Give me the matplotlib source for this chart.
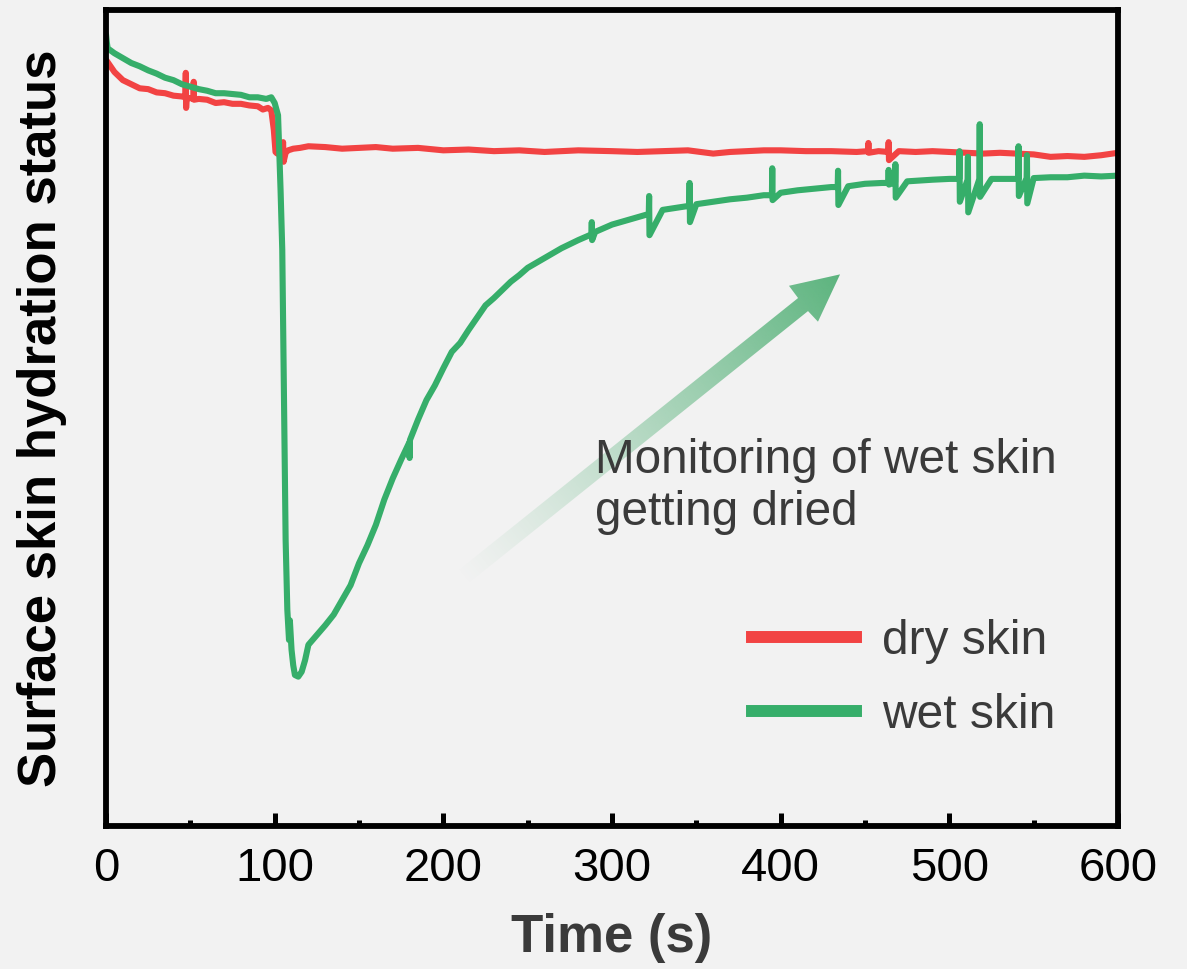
import numpy as np
import matplotlib.pyplot as plt
from matplotlib.lines import Line2D
from matplotlib.patches import Polygon
from matplotlib.ticker import MultipleLocator

plt.rcParams['font.family'] = ['Liberation Sans', 'DejaVu Sans']

# dry skin (red), arbitrary units 0-100
dry_t = [0, 2, 5, 10, 15, 20, 25, 30, 35, 40, 45, 47, 47.3, 47.5, 47.8, 50, 51.8, 52, 52.2,
         55, 60, 65, 70, 75, 80, 85, 90, 93, 96, 98, 99.5, 100.5, 101.5, 103, 104.5, 105,
         105.3, 106.5, 108, 111, 115, 120, 130, 140, 150, 160, 170, 185, 200, 215, 230,
         245, 260, 280, 300, 315, 330, 345, 360, 370, 380, 390, 400, 415, 430, 445, 451.8,
         452, 452.2, 458, 463.8, 464, 464.2, 470, 480, 490, 500, 510, 520, 530, 540, 550,
         560, 570, 580, 590, 600]
dry_v = [93.9, 93.3, 92.4, 91.4, 90.9, 90.4, 90.3, 89.9, 89.8, 89.5, 89.4, 89.3, 92.3, 88.0,
         89.2, 89.2, 89.1, 91.2, 89.0, 89.1, 89.0, 88.6, 88.7, 88.5, 88.5, 88.3, 88.2, 87.8,
         88.0, 87.7, 85.3, 82.6, 82.4, 82.8, 82.9, 83.8, 81.4, 82.5, 82.8, 83.0, 83.1, 83.3,
         83.2, 83.0, 83.1, 83.2, 83.0, 83.1, 82.8, 82.9, 82.7, 82.8, 82.6, 82.8, 82.7, 82.6,
         82.7, 82.8, 82.4, 82.6, 82.7, 82.8, 82.8, 82.7, 82.7, 82.6, 82.7, 83.7, 82.5, 82.7,
         82.6, 83.8, 81.6, 82.7, 82.6, 82.7, 82.6, 82.5, 82.4, 82.5, 82.4, 82.3, 82.0, 82.1,
         82.0, 82.2, 82.5]

# wet skin (green)
wet_t = [0, 0.5, 1, 5, 10, 15, 20, 25, 30, 35, 40, 45, 50, 55, 60, 65, 70, 75, 80, 85, 90,
         95, 98, 100, 102, 103.5, 104.5, 105.5, 106.5, 107.5, 108.5, 109, 110, 111, 112, 114,
         116, 118, 120, 125, 130, 135, 140, 145, 150, 155, 160, 165, 170, 175, 179.8, 180,
         180.2, 185, 190, 195, 200, 205, 210, 215, 220, 225, 230, 235, 240, 245, 250, 260,
         270, 280, 287.8, 288, 288.2, 290, 300, 310, 321.8, 322, 322.2, 330, 345.8, 346,
         346.2, 350, 360, 370, 380, 390, 394.8, 395, 395.2, 400, 410, 420, 430, 433.8, 434,
         434.2, 440, 450, 460, 463.8, 464, 464.2, 467.8, 468, 468.2, 475, 490, 500, 505.8,
         506, 506.2, 510.8, 511, 511.2, 517.8, 518, 518.2, 525, 530, 540.8, 541, 541.2,
         545.8, 546, 546.2, 550, 560, 570, 580, 590, 600]
wet_v = [97.0, 96.0, 95.3, 94.7, 94.1, 93.5, 93.1, 92.6, 92.2, 91.7, 91.4, 90.9, 90.6, 90.3,
         90.1, 89.8, 89.8, 89.7, 89.6, 89.3, 89.3, 89.1, 89.3, 88.6, 87.1, 77.9, 70.6, 52.2,
         35.0, 26.5, 22.8, 25.2, 21.6, 19.7, 18.5, 18.3, 18.9, 20.3, 22.2, 23.4, 24.6, 25.9,
         27.7, 29.5, 32.2, 34.4, 36.9, 40.0, 42.6, 44.9, 47.0, 45.1, 47.3, 49.8, 52.2, 54.0,
         56.1, 58.1, 59.2, 60.8, 62.3, 63.8, 64.7, 65.7, 66.7, 67.5, 68.4, 69.6, 70.8, 71.8,
         72.5, 74.0, 71.8, 72.8, 73.7, 74.3, 75.0, 77.2, 72.4, 75.5, 76.0, 78.8, 74.0, 76.2,
         76.5, 76.8, 77.0, 77.3, 77.3, 80.6, 76.7, 77.6, 77.9, 78.1, 78.3, 78.3, 80.3, 76.1,
         78.4, 78.7, 78.8, 78.8, 80.4, 78.6, 78.9, 81.1, 77.0, 79.0, 79.2, 79.3, 79.3, 82.7,
         76.5, 79.2, 82.0, 75.2, 79.3, 86.0, 77.1, 79.3, 79.3, 79.3, 83.3, 77.2, 79.4, 82.2,
         76.3, 79.4, 79.5, 79.5, 79.7, 79.6, 79.7]

xticks = [0, 100, 200, 300, 400, 500, 600]

bg = '#f2f2f2'
red = '#f24343'
green = '#36ae6a'
dark = '#3a3a3a'

fig = plt.figure(figsize=(11.87, 9.69), dpi=100, facecolor=bg)
ax = fig.add_axes([0.0893, 0.1476, 0.8526, 0.8421])
ax.set_facecolor(bg)

ax.plot(dry_t, dry_v, color=red, lw=4.4, solid_joinstyle='round', solid_capstyle='round')
ax.plot(wet_t, wet_v, color=green, lw=4.4, solid_joinstyle='round', solid_capstyle='round')

ax.set_xlim(0, 600)
ax.set_ylim(0, 100)
ax.set_xticks(xticks)
ax.xaxis.set_minor_locator(MultipleLocator(50))
ax.set_yticks([])
ax.tick_params(axis='x', which='major', direction='in', length=9.5, width=3.6,
               labelsize=34, pad=15, colors='black')
ax.tick_params(axis='x', which='minor', direction='in', length=4, width=3.6)
for s in ax.spines.values():
    s.set_linewidth(4.2)
    s.set_color('black')

ax.set_xlabel('Time (s)', fontsize=38, fontweight='bold', color=dark, labelpad=16)
ax.set_ylabel('Surface skin hydration status', fontsize=38, fontweight='bold',
              color='black', labelpad=28)

# gradient arrow
arrow = [(435.2, 67.6), (404.9, 66.2), (410.3, 64.7), (206.9, 31.0),
         (212.8, 29.4), (416.2, 63.1), (422.1, 61.8)]
poly = Polygon(arrow, closed=True, facecolor='none', edgecolor='none')
ax.add_patch(poly)
x0, x1, y0, y1 = 200, 440, 28, 70
gx, gy = np.meshgrid(np.linspace(x0, x1, 400), np.linspace(y0, y1, 300))
pts = ax.transData.transform(np.column_stack([gx.ravel(), gy.ravel()]))
tail = ax.transData.transform([(209.8, 30.2)])[0]
tip = ax.transData.transform([(435.2, 67.6)])[0]
d = tip - tail
s = ((pts - tail) @ d) / (d @ d)
s = np.clip(s, 0, 1).reshape(gx.shape)
img = np.zeros(gx.shape + (4,))
img[..., 0] = 0x5c / 255
img[..., 1] = 0xb4 / 255
img[..., 2] = 0x7e / 255
img[..., 3] = s ** 1.2
im = ax.imshow(img, extent=(x0, x1, y0, y1), origin='lower', aspect='auto',
               interpolation='bilinear', zorder=3)
im.set_clip_path(poly)

ax.text(290, 41.6, 'Monitoring of wet skin\ngetting dried', fontsize=34.4, color=dark,
        va='center', ha='left', linespacing=1.2)

handles = [Line2D([], [], color=red, lw=8.6), Line2D([], [], color=green, lw=8.6)]
ax.legend(handles, ['dry skin', 'wet skin'], loc='center left',
          bbox_to_anchor=(0.638, 0.181), frameon=False, fontsize=34.5,
          handlelength=2.17, handletextpad=0.56, labelspacing=0.6, borderpad=0,
          borderaxespad=0, labelcolor=dark)

fig.savefig('out.png', dpi=100, facecolor=bg)
